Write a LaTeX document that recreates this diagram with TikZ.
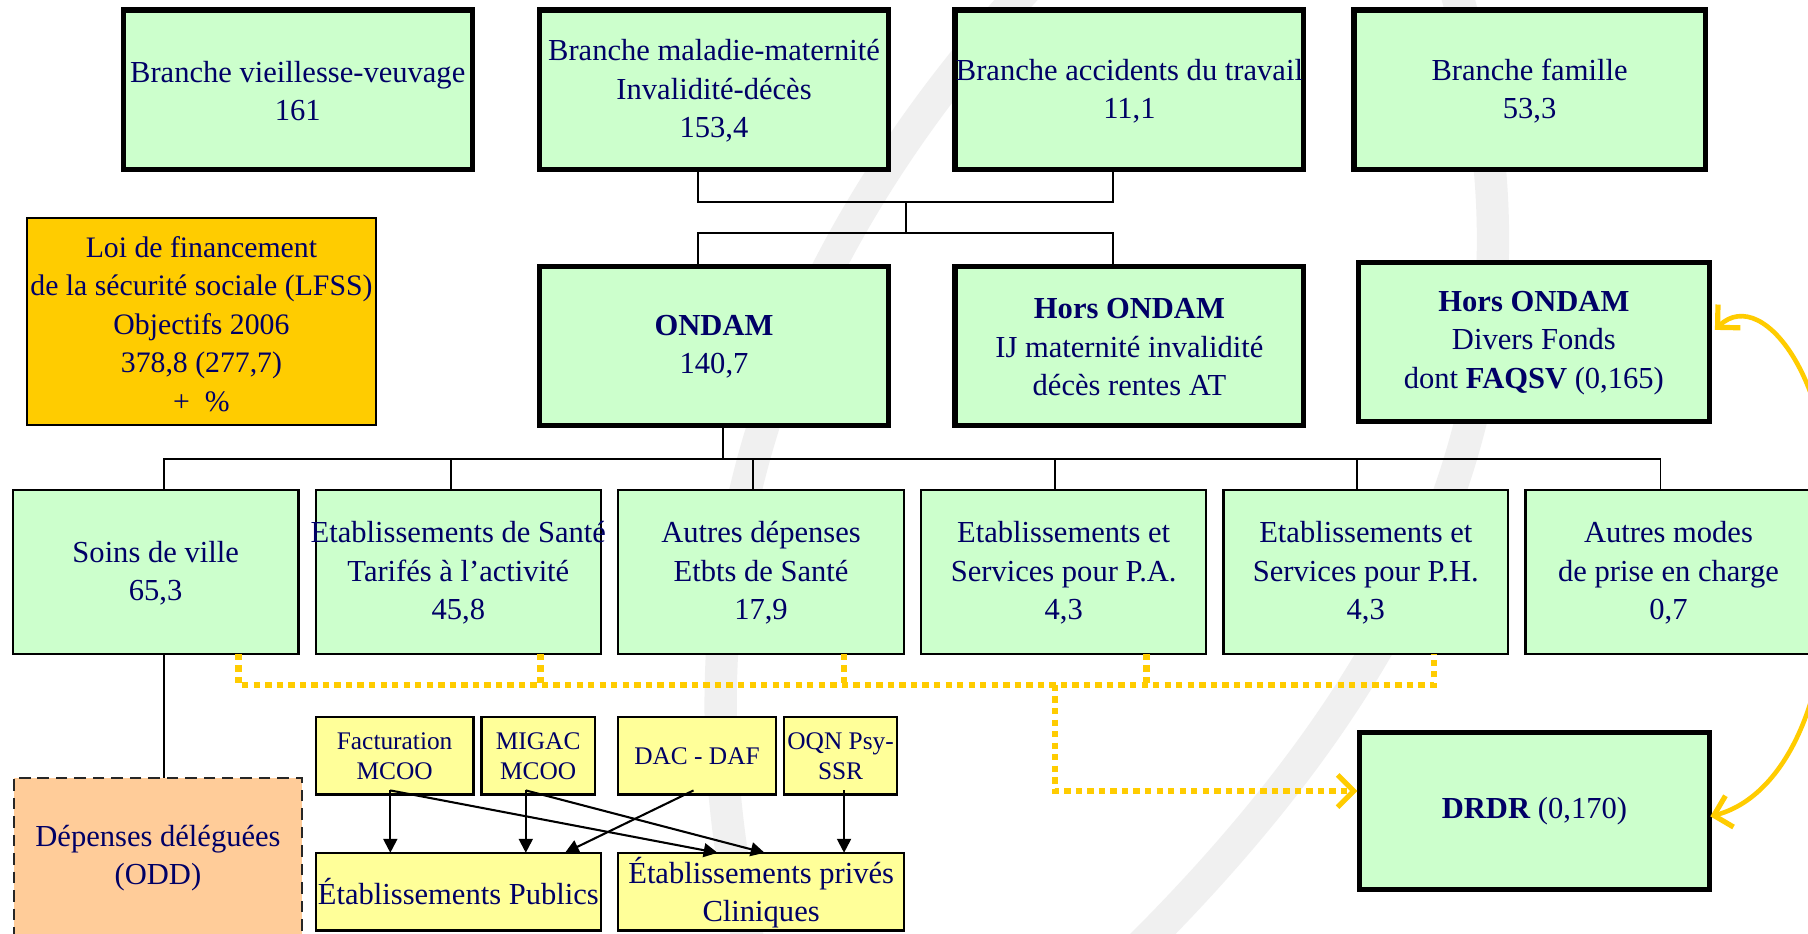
\documentclass[tikz,border=0pt]{standalone}
\usepackage{fontspec}
\setmainfont{Liberation Serif}
\usetikzlibrary{arrows.meta,calc}
\definecolor{gfill}{HTML}{CCFFCC}
\definecolor{ofill}{HTML}{FFCC00}
\definecolor{pfill}{HTML}{FFCC99}
\definecolor{yfill}{HTML}{FFFF99}
\definecolor{ycol}{HTML}{FFCC00}
\definecolor{navytxt}{HTML}{000066}
\definecolor{swoosh}{HTML}{F0F0F0}
\begin{document}
\begin{tikzpicture}[x=1pt,y=-1pt,
  box/.style={inner sep=0pt,outer sep=0pt},
  gthick/.style={box,draw=black,line width=4.5pt,fill=gfill},
  gthin/.style={box,draw=black,line width=2pt,fill=gfill},
  obox/.style={box,draw=black,line width=1.8pt,fill=ofill},
  pbox/.style={box,draw=black!85,line width=2pt,dash pattern=on 10pt off 6pt,fill=pfill},
  ybox/.style={box,draw=black,line width=2pt,fill=yfill},
  txt/.style={text=navytxt,align=center,inner sep=0pt,font=\fontsize{26.5}{33.3}\selectfont},
  stxt/.style={text=navytxt,align=center,inner sep=0pt,font=\fontsize{22}{26.5}\selectfont},
  conn/.style={draw=black,line width=1.5pt},
  ydot/.style={draw=ycol,line width=5.8pt,dash pattern=on 5.5pt off 4.5pt},
  arr/.style={draw=black,line width=1.8pt,-{Triangle[length=12pt,width=12pt]}},
  chev/.tip={Straight Barb[length=14pt,width=28pt,line width=4.5pt]},
  swo/.style={draw=swoosh,line width=28pt}
]
\useasboundingbox (0,0) rectangle (1568,810);
\clip (0,0) rectangle (1568,810);
\fill[white] (0,0) rectangle (1568,810);
% background swooshes
\draw[swo] (890,-10) .. controls (690,210) and (570,480) .. (650,820);
\draw[swo] (1262,-10) .. controls (1340,260) and (1290,520) .. (990,820);

% row 1
\node[gthick,minimum width=302.5pt,minimum height=138pt] (b1) at (258.2,77.75) {};
\node[gthick,minimum width=303pt,minimum height=138pt] (b2) at (619.25,77.75) {};
\node[gthick,minimum width=302.5pt,minimum height=138pt] (b3) at (979.5,77.75) {};
\node[gthick,minimum width=304.5pt,minimum height=138pt] (b4) at (1326.5,77.75) {};
\node[txt] (b1t) at (258.2,79) {Branche vieillesse-veuvage\\161};
\node[txt] (b2t) at (619.25,79) {Branche maladie-maternité\\Invalidité-décès\\153,4};
\node[txt] (b3t) at (979.5,79) {Branche accidents du travail\\11,1};
\node[txt] (b4t) at (1326.5,79) {Branche famille\\53,3};

% row 2
\node[obox,minimum width=302.8pt,minimum height=179.7pt] (lfss) at (174.7,278.75) {};
\node[txt,font=\fontsize{25.8}{33.3}\selectfont] (lfsst) at (174.7,281) {Loi de financement\\de la sécurité sociale (LFSS)\\Objectifs 2006\\378,8 (277,7)\\+\ \ \%};
\node[gthick,minimum width=303pt,minimum height=137.5pt] (ondam) at (619.25,300) {};
\node[gthick,minimum width=302.5pt,minimum height=137.5pt] (ho1) at (979.5,300) {};
\node[gthick,minimum width=304pt,minimum height=137.7pt] (ho2) at (1330.25,296.6) {};
\node[txt] (ondamt) at (619.25,300.5) {\textbf{ONDAM}\\140,7};
\node[txt] (ho1t) at (979.5,301) {\textbf{Hors ONDAM}\\IJ maternité invalidité\\décès rentes AT};
\node[txt] (ho2t) at (1330.25,297.5) {\textbf{Hors ONDAM}\\Divers Fonds\\dont \textbf{FAQSV} (0,165)};

% row 3
\node[gthin,minimum width=248pt,minimum height=142pt] (soins) at (135,496) {};
\node[gthin,minimum width=247pt,minimum height=142pt] (es) at (397.5,496) {};
\node[gthin,minimum width=248pt,minimum height=142pt] (ad) at (660,496) {};
\node[gthin,minimum width=247pt,minimum height=142pt] (pa) at (922.5,496) {};
\node[gthin,minimum width=247pt,minimum height=142pt] (ph) at (1184.5,496) {};
\node[gthin,minimum width=248pt,minimum height=142pt] (am) at (1447,496) {};
\node[txt] (soinst) at (135,497) {Soins de ville\\65,3};
\node[txt] (est) at (397.5,497) {Etablissements de Santé\\Tarifés à l’activité\\45,8};
\node[txt] (adt) at (660,497) {Autres dépenses\\Etbts de Santé\\17,9};
\node[txt] (pat) at (922.5,497) {Etablissements et\\Services pour P.A.\\4,3};
\node[txt] (pht) at (1184.5,497) {Etablissements et\\Services pour P.H.\\4,3};
\node[txt] (amt) at (1447,497) {Autres modes\\de prise en charge\\0,7};

% lower part
\node[gthick,minimum width=303pt,minimum height=136.5pt] (drdr) at (1330.75,703.5) {};
\node[txt] (drdrt) at (1330.75,703.5) {\textbf{DRDR} (0,170)};
\node[pbox,minimum width=250pt,minimum height=154.5pt] (odd) at (137,751.75) {};
\node[txt] (oddt) at (137,744) {Dépenses déléguées\\(ODD)};
\node[ybox,minimum width=136.9pt,minimum height=67.4pt] (fact) at (342.25,655.3) {};
\node[ybox,minimum width=98.1pt,minimum height=67.4pt] (migac) at (466.75,655.3) {};
\node[ybox,minimum width=137pt,minimum height=67.4pt] (dac) at (604.5,655.3) {};
\node[ybox,minimum width=98pt,minimum height=67.4pt] (oqn) at (729,655.3) {};
\node[stxt] (factt) at (342.25,656) {Facturation\\MCOO};
\node[stxt] (migact) at (466.75,656) {MIGAC\\MCOO};
\node[stxt] (dact) at (604.5,656) {DAC - DAF};
\node[stxt] (oqnt) at (729,656) {OQN Psy-\\SSR};
\node[ybox,minimum width=247.4pt,minimum height=67.4pt] (pub) at (397.5,773.3) {};
\node[ybox,minimum width=247.8pt,minimum height=67.4pt] (priv) at (660.1,773.3) {};
\node[txt] (pubt) at (397.5,773.5) {Établissements Publics};
\node[txt] (privt) at (660.1,774) {Établissements privés\\Cliniques};

% top connectors
\coordinate (j1) at (785.5,175);
\coordinate (j2) at (785.5,202);
\draw[conn] ([xshift=-14pt]b2.south) |- (j1) -| ([xshift=-14pt]b3.south);
\draw[conn] (j1) -- (j2);
\draw[conn] ([xshift=-14pt]ondam.north) |- (j2) -| ([xshift=-14pt]ho1.north);
% bus
\coordinate (j3) at (627,398);
\draw[conn] ([xshift=7.75pt]ondam.south) -- (j3);
\draw[conn] ([xshift=7pt]soins.north) |- ([xshift=-7pt]am.north |- j3) -- ([xshift=-7pt]am.north);
\foreach \n/\s in {es/-6.5,ad/-7,pa/-7.5,ph/-7.5}
  \draw[conn] ([xshift=\s pt]\n.north) -- ([xshift=\s pt]\n.north |- j3);
\draw[conn] ([xshift=7pt]soins.south) -- ([xshift=7pt]soins.south |- odd.north);

% dotted yellow
\coordinate (yl) at (207,594);
\coordinate (yr) at (1243.5,594);
\draw[ydot] (yl |- soins.south) -- (yl) -- (yr) -- (yr |- ph.south);
\foreach \n/\s in {es/71.5,ad/72,pa/72}
  \draw[ydot] ([xshift=\s pt]\n.south) -- ([xshift=\s pt]\n.south |- yl);
\draw[ydot,-chev] (915,594) |- ([yshift=17.5pt,xshift=-2pt]drdr.west);

% curved yellow double arrow
\draw[draw=ycol,line width=4pt,chev-chev] ([xshift=5pt,yshift=10.5pt]ho2.east) .. controls (1530,245) and (1600,340) .. (1585,480) .. controls (1590,610) and (1545,692) .. ([xshift=1pt,yshift=-4.5pt]drdr.east);

% black arrows
\draw[arr] ([xshift=-3.75pt,yshift=3.5pt]fact.south) -- ([xshift=-3.75pt]fact.south |- pub.north);
\draw[arr] ([xshift=-3.75pt,yshift=3.5pt]fact.south) -- ([xshift=-37.8pt]priv.north);
\draw[arr] ([xshift=-10.75pt,yshift=3.5pt]migac.south) -- ([xshift=-10.75pt]migac.south |- pub.north);
\draw[arr] ([xshift=-10.75pt,yshift=3.5pt]migac.south) -- ([xshift=3pt]priv.north);
\draw[arr] ([xshift=-3pt,yshift=3.5pt]dac.south) -- ([xshift=92.5pt]pub.north);
\draw[arr] ([xshift=3pt,yshift=3.5pt]oqn.south) -- ([xshift=3pt]oqn.south |- priv.north);
\end{tikzpicture}
\end{document}
